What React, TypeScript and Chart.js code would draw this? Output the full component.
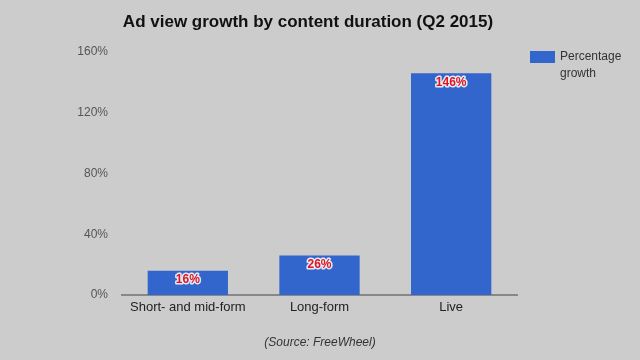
import React, { useEffect, useRef } from "react";
import { Chart, registerables } from "chart.js";

Chart.register(...registerables);

const categories = ["Short- and mid-form", "Long-form", "Live"];
const growthValues = [16, 26, 146];
const seriesName = ["Percentage", "growth"];
const titleText = "Ad view growth by content duration (Q2 2015)";
const sourceText = "(Source: FreeWheel)";
const yMax = 160;
const yStep = 40;

const FONT = '"Liberation Sans", Arial, sans-serif';
const BAR = "#3366cc";
const BG = "#cccccc";

export default function App() {
  const ref = useRef<HTMLCanvasElement | null>(null);
  useEffect(() => {
    if (!ref.current) return;
    const extras = {
      id: "extras",
      afterDatasetsDraw(chart: any) {
        const ctx = chart.ctx;
        const meta = chart.getDatasetMeta(0);
        ctx.save();
        ctx.font = `bold 12px ${FONT}`;
        ctx.textAlign = "center";
        ctx.textBaseline = "middle";
        ctx.lineJoin = "round";
        meta.data.forEach((bar: any, i: number) => {
          const txt = growthValues[i] + "%";
          const y = bar.y + 9;
          ctx.lineWidth = 3;
          ctx.strokeStyle = "rgba(255,255,255,0.85)";
          ctx.strokeText(txt, bar.x, y);
          ctx.fillStyle = "#e0161c";
          ctx.fillText(txt, bar.x, y);
        });
        ctx.restore();
      },
      afterDraw(chart: any) {
        const ctx = chart.ctx;
        ctx.save();
        ctx.fillStyle = "#111";
        ctx.font = `bold 17px ${FONT}`;
        ctx.textAlign = "center";
        ctx.textBaseline = "middle";
        ctx.fillText(titleText, 308, 22);
        ctx.font = `italic 12px ${FONT}`;
        ctx.fillStyle = "#333";
        ctx.fillText(sourceText, 320, 343);
        // legend
        ctx.fillStyle = BAR;
        ctx.fillRect(530, 51, 25, 12);
        ctx.fillStyle = "#333";
        ctx.font = `12px ${FONT}`;
        ctx.textAlign = "left";
        ctx.fillText(seriesName[0], 560, 57);
        ctx.fillText(seriesName[1], 560, 74);
        ctx.restore();
      },
    };
    const chart = new Chart(ref.current, {
      type: "bar",
      data: {
        labels: categories,
        datasets: [
          {
            label: seriesName.join(" "),
            data: growthValues,
            backgroundColor: BAR,
            barPercentage: 0.61,
            categoryPercentage: 1,
          },
        ],
      },
      options: {
        responsive: false,
        animation: false,
        layout: { padding: { top: 52, right: 123, left: 0, bottom: 0 } },
        plugins: {
          legend: { display: false },
          title: { display: false },
          tooltip: { enabled: false },
        },
        scales: {
          x: {
            grid: { display: false },
            border: { display: true, color: "#888", width: 2 },
            ticks: { color: "#222", font: { family: FONT, size: 13 }, padding: -3, maxRotation: 0 },
            afterFit(scale: any) {
              scale.height = 65;
            },
          },
          y: {
            min: 0,
            max: yMax,
            grid: { display: false, drawTicks: false },
            border: { display: false },
            ticks: {
              stepSize: yStep,
              padding: 14,
              color: "#555",
              font: { family: FONT, size: 12 },
              callback: (v: any) => v + "%",
            },
            afterFit(scale: any) {
              scale.width = 122;
            },
          },
        },
      },
      plugins: [extras],
    });
    return () => chart.destroy();
  }, []);
  return (
    <div style={{ position: "fixed", left: 0, top: 0, width: 640, height: 360, background: BG }}>
      <canvas ref={ref} width={640} height={360} />
    </div>
  );
}
